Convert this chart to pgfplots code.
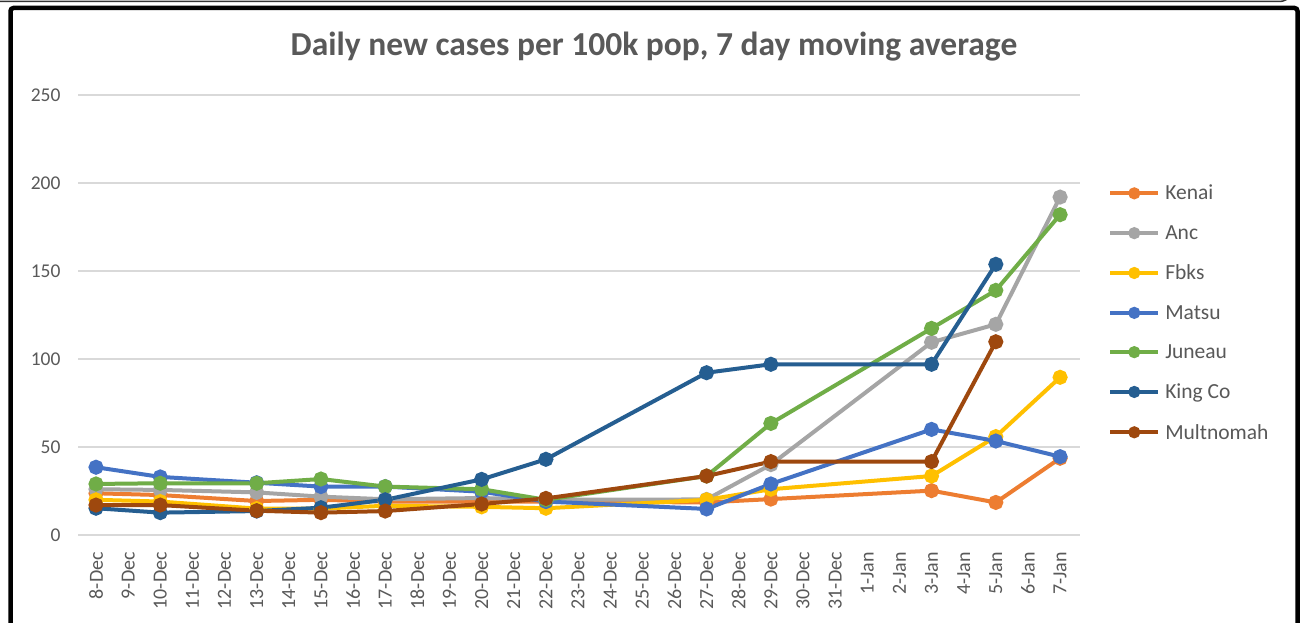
\documentclass[border=0pt]{standalone}
\usepackage{pgfplots}
\pgfplotsset{compat=1.18}
\usepackage{fontspec}
\setmainfont{Carlito}
\definecolor{cKenai}{HTML}{ED7D31}
\definecolor{cAnc}{HTML}{A5A5A5}
\definecolor{cFbks}{HTML}{FFC000}
\definecolor{cMatsu}{HTML}{4472C4}
\definecolor{cJuneau}{HTML}{70AD47}
\definecolor{cKing}{HTML}{255E91}
\definecolor{cMult}{HTML}{9E480E}
\definecolor{txt}{HTML}{595959}
\definecolor{gridc}{HTML}{D9D9D9}
\begin{document}
\begin{tikzpicture}
\useasboundingbox (0,0) rectangle (1304pt,623pt);
\fill[white] (0,0) rectangle (1304pt,623pt);
\begin{axis}[
  scale only axis,
  width=1002pt, height=440pt,
  at={(96pt,88pt)}, anchor=origin,
  xmin=-0.56, xmax=30.62,
  ymin=0, ymax=250,
  axis line style={draw=none},
  ytick={0,50,...,250},
  ymajorgrids=true, xmajorgrids=false,
  y grid style={draw=gridc, line width=1.3pt},
  major tick length=0pt,
  xtick={0,...,30},
  xticklabels={8-Dec,9-Dec,10-Dec,11-Dec,12-Dec,13-Dec,14-Dec,15-Dec,16-Dec,17-Dec,18-Dec,19-Dec,20-Dec,21-Dec,22-Dec,23-Dec,24-Dec,25-Dec,26-Dec,27-Dec,28-Dec,29-Dec,30-Dec,31-Dec,1-Jan,2-Jan,3-Jan,4-Jan,5-Jan,6-Jan,7-Jan},
  x tick label style={rotate=90, anchor=east, font=\fontsize{20}{20}\selectfont, text=txt, inner sep=0pt, xshift=-17pt},
  y tick label style={font=\fontsize{19.5}{20}\selectfont, text=txt, anchor=east, xshift=-14pt},
  /pgf/number format/assume math mode=true,
  clip=false,
  every axis plot/.append style={line width=4pt, mark=*, mark size=5.5pt, mark options={solid}},
  legend style={at={(1.028,0.80)}, anchor=north west, draw=none, fill=none,
    font=\fontsize{21.5}{22}\selectfont, text=txt, row sep=20pt, inner sep=0pt,
    nodes={inner xsep=5pt}},
  legend cell align=left,
  legend image code/.code={\draw[#1, line width=4pt, mark size=4pt] plot coordinates {(0pt,0pt) (24pt,0pt) (48pt,0pt)};
  },
  legend image post style={mark repeat=2, mark phase=2},
]
\addplot[color=cKenai] coordinates {(0,23.7) (2,22.7) (5,19.3) (7,20) (9,19) (12,19) (14,19) (19,18.5) (21,20.4) (26,25.2) (28,18.5) (30,43.6)};
\addlegendentry{Kenai}
\addplot[color=cAnc] coordinates {(0,26) (2,25.6) (5,24.2) (7,21.8) (9,20.3) (12,21) (14,20) (19,20.2) (21,40) (26,109.5) (28,119.7) (30,192)};
\addlegendentry{Anc}
\addplot[color=cFbks] coordinates {(0,20) (2,19) (5,15) (7,15) (9,16.6) (12,16) (14,15.2) (19,20) (21,26) (26,33.5) (28,55.9) (30,89.6)};
\addlegendentry{Fbks}
\addplot[color=cMatsu] coordinates {(0,38.5) (2,33) (5,29.7) (7,27.5) (9,27.5) (12,24.6) (14,19) (19,14.8) (21,29) (26,60) (28,53.4) (30,44.5)};
\addlegendentry{Matsu}
\addplot[color=cJuneau] coordinates {(0,29) (2,29.4) (5,29.4) (7,31.8) (9,27.5) (12,26) (14,20) (19,33.5) (21,63.4) (26,117.4) (28,139) (30,182)};
\addlegendentry{Juneau}
\addplot[color=cKing] coordinates {(0,15.2) (2,12.7) (5,13.6) (7,15.5) (9,20) (12,31.6) (14,43) (19,92.2) (21,97) (26,97) (28,153.8)};
\addlegendentry{King Co}
\addplot[color=cMult] coordinates {(0,17) (2,17) (5,13.8) (7,12.7) (9,13.6) (12,17.6) (14,20.8) (19,33.5) (21,41.7) (26,41.7) (28,109.8)};
\addlegendentry{Multnomah}
\end{axis}
\node[font=\bfseries\fontsize{33.5}{34}\selectfont, text=txt] at (654pt,576pt) {Daily new cases per 100k pop, 7 day moving average};
\draw[black, line width=4.5pt, rounded corners=3pt] (10.5pt,-30pt) -- (10.5pt,615pt) -- (1297.5pt,615pt) -- (1297.5pt,-30pt);
\draw[black!80, line width=1.5pt, rounded corners=8pt] (0pt,621.5pt) -- (1288pt,621.5pt) -- (1292pt,630pt);
\end{tikzpicture}
\end{document}
